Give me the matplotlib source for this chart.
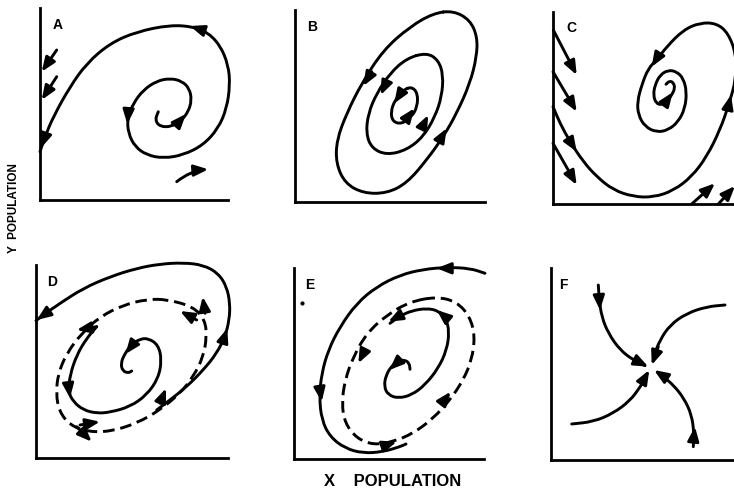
import numpy as np
import matplotlib
matplotlib.use("Agg")
import matplotlib.pyplot as plt
from matplotlib.path import Path
from matplotlib.patches import PathPatch

# --- curve data (panel units, origin at axis corner) ---

# A: unstable focus, trajectory spirals out and hits the Y axis
a_spiral = [(118.3, 88.3), (115, 80), (120, 73.3), (131.7, 73.3), (141.7, 80),
            (148.3, 88.3), (151.7, 100), (149.3, 111.7), (141.7, 119), (130, 121.7),
            (116.7, 119), (103.3, 110), (93.3, 96.7), (87.3, 81.7), (88.3, 66.7),
            (95, 53.3), (106.7, 45), (123.3, 41.7), (143.3, 45), (163.3, 55),
            (178.3, 71.7), (186.7, 91.7), (190, 115), (188.3, 135), (180, 155),
            (166.7, 168.3), (153.3, 173.3), (130, 175), (96.7, 168.3), (70, 156.7),
            (46.7, 136.7), (30, 113.3), (13.3, 83.3), (5, 63.3), (0, 48.3)]
a_arrows = [((165, 169), (150, 174)), ((88.5, 90), (87.3, 76)),
            ((138, 77), (146, 86)), ((6, 66), (1, 52)),
            ((16.7, 150), (1.7, 128.3)), ((16.7, 123.3), (1.7, 100))]
a_curved_arrow = ((136.7, 18.3), (168.3, 30.7))

# B: neutral centre, three closed orbits
b_outer = [(158.3, 191.3), (175, 182), (182.3, 165.3), (181.7, 145.3), (175, 118.7),
           (161.7, 88.7), (148.3, 65.3), (131.7, 42), (111.7, 18.7), (91.7, 8.7),
           (68.3, 8.7), (50, 18.7), (41, 38.7), (41.7, 62), (51.7, 88.7),
           (66.7, 118.7), (88.3, 152), (115, 175.3), (138.3, 188.7)]
b_middle = [(131.7, 149.3), (143.3, 142), (148.3, 127), (146.7, 105.3), (140, 85.3),
            (128.3, 65.3), (111.7, 52), (91.7, 47), (76.7, 53.7), (71, 68.7),
            (73.3, 88.7), (81.7, 108.7), (95, 128.7), (111.7, 143.7)]
b_inner = [(116.7, 115.3), (122.7, 108.7), (122.3, 95.3), (116.7, 85.3), (106.7, 78),
           (97.7, 80.3), (95.7, 90.3), (100, 102), (108.3, 112)]
b_arrows = [((76.7, 130.3), (68.3, 116)), ((145, 62), (151.7, 73.7)),
            ((91, 118.7), (85.7, 107)), ((126.7, 73.7), (133.3, 87)),
            ((105.7, 108.7), (99.3, 98.7)), ((112.7, 84.7), (119.3, 93.7))]

# C: stable focus, trajectory from the Y axis spirals in
c_spiral = [(0, 97.3), (7, 80.7), (17, 62.3), (30.3, 42.3), (43.7, 27.3),
            (60.3, 14), (80.3, 7.3), (100.3, 6.7), (120.3, 13.3), (138.7, 27.3),
            (153.7, 47.3), (167, 74), (176.3, 100.7), (183, 125), (183, 150),
            (175.3, 170.7), (163.7, 180.7), (147, 181.3), (130.3, 174), (113.7, 157.3),
            (103.7, 144), (95.3, 135.7), (88.7, 119), (84.3, 102.3), (85.3, 89),
            (92, 77.3), (103.7, 71.7), (115.3, 74), (125.3, 82.3), (132, 95.7),
            (133.7, 112.3), (130.3, 125.7), (123.7, 132.3), (115.3, 134), (107, 129),
            (102, 119), (100.3, 109), (103, 100.7), (108.7, 99), (114.3, 103),
            (118.7, 109), (122, 115.7), (120.3, 121.7), (116.3, 123), (113, 119.7)]
c_arrows = [((105.3, 148), (98.7, 137.3)), ((175.3, 97.3), (178, 109)),
            ((16.3, 64), (23.7, 52.3)), ((113, 102.3), (119.7, 111.7)),
            ((0.3, 174), (23.7, 129)), ((0, 132.3), (23.7, 92.3)),
            ((0, 60.7), (23.7, 19)), ((138.7, 0), (162, 20.7)),
            ((165.3, 0), (182, 18))]

# D: unstable limit cycle (dashed)
d_cycle = [(130.7, 158.7), (157.3, 151.3), (169, 138), (170.7, 121.3), (167.3, 101.3),
           (157.3, 81.3), (144, 64.7), (124, 48), (100.7, 34.7), (74, 26.3),
           (50.7, 26.3), (34, 33), (23.3, 46.3), (20, 64.7), (22.3, 84.7),
           (30.7, 104.7), (45.7, 124.7), (64, 141.3), (87.3, 153), (110.7, 158.7)]
d_inner = [(60.7, 131.3), (50.7, 119.7), (40.7, 103), (34, 83), (32.3, 66.3),
           (37.3, 56.3), (47.3, 48), (60.7, 44.7), (74, 45.7), (94, 51.3),
           (110.7, 63), (122.3, 79.7), (125.7, 98), (122.3, 113), (112.3, 119.7),
           (104, 119), (95.7, 113.7), (89, 104.7), (84.7, 94.7), (86.7, 87),
           (92.3, 85), (95.7, 87)]
d_outer = [(120.7, 48), (134, 58), (150.7, 71.3), (167.3, 88), (180.7, 104.7),
           (189, 121.3), (193.3, 138), (194, 154.7), (190.7, 171.3), (182.3, 184.7),
           (167.3, 193), (147.3, 195.3), (124, 194), (100.7, 189.7), (74, 181.3),
           (47.3, 169.7), (24, 154.7), (7.3, 143), (0, 137.3)]
d_arrows = [((12.3, 146.3), (0.7, 138)), ((188, 119.7), (191.3, 129.7)),
            ((32.5, 72), (34, 60)), ((99, 116.5), (89.5, 104)),
            ((60.7, 131.3), (40.7, 128)), ((169, 144.7), (166.7, 161.3)),
            ((160.7, 138), (144, 147)), ((124, 54.7), (130, 69.7)),
            ((44, 33), (64, 36.3)), ((40.7, 31.3), (55.7, 16.3))]

# E: stable limit cycle (dashed)
e_cycle = [(142.7, 162.3), (162.7, 157.3), (176, 142.3), (181, 122.3), (177.7, 99),
           (169.3, 79), (156, 59), (139.3, 40.7), (119.3, 25.7), (99.3, 17.3),
           (79.3, 14), (62.7, 20.7), (51, 35.7), (47.7, 55.7), (51, 79),
           (59.3, 102.3), (72.7, 125.7), (92.7, 144), (116, 157.3)]
e_inner = [(116, 89.7), (115.3, 95.7), (111, 99), (104.3, 98.3), (97.7, 93),
           (92, 84), (90, 72.3), (94.3, 64), (104.3, 60.7), (117.7, 64),
           (131, 74), (144.3, 90.7), (152.7, 109), (155.3, 127.3), (152, 140.7),
           (144.3, 148.3), (132.7, 150.7), (117.7, 148.3), (106, 143), (96, 135.7)]
e_outer = [(191, 185.7), (176, 190.7), (152.7, 191.7), (129.3, 189.7), (106, 184),
           (82.7, 172.3), (62.7, 155.7), (46, 132.3), (34.3, 109), (27.7, 85.7),
           (25.3, 62.3), (27.7, 39), (36, 22.3), (51, 10.7), (69.3, 5.7),
           (89.3, 7.3), (106, 12.3), (112, 15)]
e_arrows = [((156, 190.7), (142.7, 190.7)), ((26, 69), (27.7, 57.3)),
            ((106, 99), (95.3, 89)), ((152.7, 140.7), (142.7, 149)),
            ((71, 109), (64.3, 95.7)), ((102.7, 141.7), (94.3, 137.3)),
            ((147.7, 55.7), (156.7, 67.3)), ((92.7, 14), (102.7, 17.3))]
e_dot = (7.7, 155.7)

# F: stable node, four trajectories into the equilibrium
f_top = [(47.3, 175), (48.3, 160), (50.7, 143.3), (57.3, 126.7), (69, 110),
         (82.3, 100), (94, 94.3)]
f_right = [(174, 155), (155.7, 153.3), (135.7, 146.7), (119, 135), (109, 120), (103, 105)]
f_left = [(20.7, 36), (42.3, 38.3), (62.3, 46.7), (79, 59.3), (89, 72.7), (95, 83)]
f_bottom = [(142.3, 13.3), (143, 26.7), (140.7, 45), (133, 61.7), (122.3, 75), (112.3, 83.3)]
f_arrows = [((48, 163.3), (49, 150)), ((82.3, 100.7), (97.3, 93.3)),
            ((107.3, 113.3), (100.7, 95)), ((90.7, 76.7), (98.3, 90)),
            ((142.3, 18.3), (144, 33.3)), ((115.7, 81.7), (103, 90))]

panel_letters = ["A", "B", "C", "D", "E", "F"]
letter_pos = [(17.3, 175), (16.7, 175.3), (18.7, 175.7), (15.7, 176.3), (16, 174), (12.3, 175)]

# --- layout: (left px, bottom px, width px, height px) for each panel ---
W, H = 734, 491
boxes = [(40, 200, 188, 192), (295, 202, 190, 192), (553, 204, 183, 192),
         (36, 458, 192, 193), (294, 459, 190, 191), (551, 460, 185, 192)]

LW = 2.1
HEAD = "-|>,head_length=0.6,head_width=0.24"


def curve(ax, pts, closed=False, dashed=False):
    # smooth quadratic path through the read points (points act as control vertices)
    p = np.asarray(pts, float)
    if closed:
        mids = (p + np.roll(p, -1, axis=0)) / 2
        verts = [mids[-1]]
        codes = [Path.MOVETO]
        for i in range(len(p)):
            verts += [p[i], mids[i]]
            codes += [Path.CURVE3, Path.CURVE3]
    else:
        mids = (p[:-1] + p[1:]) / 2
        verts = [p[0], mids[0]]
        codes = [Path.MOVETO, Path.LINETO]
        for i in range(1, len(p) - 1):
            verts += [p[i], mids[i]]
            codes += [Path.CURVE3, Path.CURVE3]
        verts.append(p[-1])
        codes.append(Path.LINETO)
    patch = PathPatch(Path(verts, codes), fill=False, edgecolor="black", lw=LW,
                      ls=(0, (4, 2)) if dashed else "-", capstyle="round" if not dashed else "butt",
                      joinstyle="round", clip_on=False)
    ax.add_patch(patch)


def arrows(ax, items, rad=0.0):
    for tail, tip in items:
        ax.annotate("", xy=tip, xytext=tail, annotation_clip=False,
                    arrowprops=dict(arrowstyle=HEAD, color="black", lw=LW,
                                    shrinkA=0, shrinkB=0, mutation_scale=14,
                                    connectionstyle="arc3,rad=%s" % rad))


fig = plt.figure(figsize=(W / 100, H / 100), dpi=100)
axes = []
for (x0, y0, w, h), letter, lp in zip(boxes, panel_letters, letter_pos):
    ax = fig.add_axes([x0 / W, (H - y0) / H, w / W, h / H])
    ax.set_xlim(0, w)
    ax.set_ylim(0, h)
    ax.set_xticks([])
    ax.set_yticks([])
    ax.spines["top"].set_visible(False)
    ax.spines["right"].set_visible(False)
    ax.spines["left"].set_linewidth(2.0)
    ax.spines["bottom"].set_linewidth(2.0)
    ax.patch.set_alpha(0)
    ax.text(lp[0], lp[1], letter, ha="center", va="center", fontsize=10,
            fontweight="bold", family="Liberation Sans")
    axes.append(ax)

ax_a, ax_b, ax_c, ax_d, ax_e, ax_f = axes

curve(ax_a, a_spiral)
arrows(ax_a, a_arrows)
arrows(ax_a, [a_curved_arrow], rad=-0.15)

for orbit in (b_outer, b_middle, b_inner):
    curve(ax_b, orbit, closed=True)
arrows(ax_b, b_arrows)

curve(ax_c, c_spiral)
arrows(ax_c, c_arrows)

curve(ax_d, d_cycle, closed=True, dashed=True)
curve(ax_d, d_inner)
curve(ax_d, d_outer)
arrows(ax_d, d_arrows)

curve(ax_e, e_cycle, closed=True, dashed=True)
curve(ax_e, e_inner)
curve(ax_e, e_outer)
arrows(ax_e, e_arrows)
ax_e.plot(*e_dot, "o", color="black", ms=2)

for tr in (f_top, f_right, f_left, f_bottom):
    curve(ax_f, tr)
arrows(ax_f, f_arrows)

fig.text(393 / W, 1 - 481.5 / H, "X    POPULATION", ha="center", va="center",
         fontsize=12, fontweight="bold", family="Liberation Sans")
fig.text(14.5 / W, 1 - 208 / H, "Y  POPULATION", ha="center", va="center",
         rotation=90, fontsize=8.5, fontweight="bold", family="Liberation Sans")

fig.savefig("out.png", dpi=100)
